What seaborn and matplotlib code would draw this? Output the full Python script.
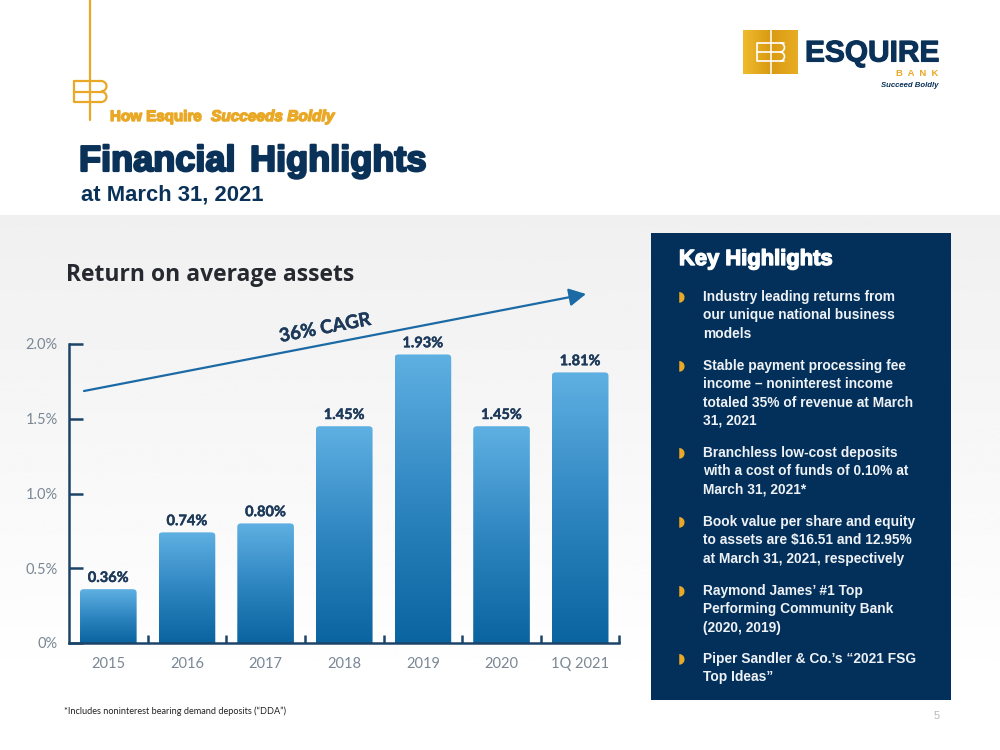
import numpy as np
import pandas as pd
import matplotlib
matplotlib.use("Agg")
import matplotlib.pyplot as plt
import matplotlib.patheffects as pe
from matplotlib.colors import LinearSegmentedColormap
from matplotlib.patches import FancyBboxPatch, Rectangle, Arc
import seaborn as sns

# Return on average assets, percent
years = ["2015", "2016", "2017", "2018", "2019", "2020", "1Q 2021"]
roaa = [0.36, 0.74, 0.80, 1.45, 1.93, 1.45, 1.81]
y_ticks = [0, 0.5, 1.0, 1.5, 2.0]
y_tick_labels = ["0%", "0.5%", "1.0%", "1.5%", "2.0%"]

highlights = [
    ["Industry leading returns from", "our unique national business", "models"],
    ["Stable payment processing fee", "income – noninterest income",
     "totaled 35% of revenue at March", "31, 2021"],
    ["Branchless low-cost deposits", "with a cost of funds of 0.10% at", "March 31, 2021*"],
    ["Book value per share and equity", "to assets are $16.51 and 12.95%", "at March 31, 2021, respectively"],
    ["Raymond James’ #1 Top", "Performing Community Bank", "(2020, 2019)"],
    ["Piper Sandler & Co.’s “2021 FSG", "Top Ideas”"],
]
highlight_tops = [297, 366, 453, 522, 591, 659]

NAVY = "#0a3158"
PANEL = "#03305a"
GOLD = "#e9a825"
AXIS = "#1c4469"
SANS = ["Liberation Sans", "DejaVu Sans"]

sns.set_theme(style="white")
plt.rcParams["font.family"] = ["Lato", "DejaVu Sans"]

fig = plt.figure(figsize=(10, 7.5), dpi=100, facecolor="white")

# Page layer in pixel coordinates, y growing downwards
page = fig.add_axes([0, 0, 1, 1], zorder=0)
page.set_xlim(0, 1000)
page.set_ylim(750, 0)
page.axis("off")

# Soft grey band fading to white behind the chart
fade = np.linspace(0.94, 1.0, 256).reshape(-1, 1)
page.imshow(fade, extent=(0, 1000, 690, 215), cmap="gray", vmin=0, vmax=1, aspect="auto", zorder=0)
page.set_xlim(0, 1000)
page.set_ylim(750, 0)


def heavy(x, y, s, size, color, width=1.0, **kw):
    t = page.text(x, y, s, fontsize=size, color=color, fontweight="bold",
                  family=SANS, va="baseline", ha="left", zorder=5, **kw)
    t.set_path_effects([pe.withStroke(linewidth=width, foreground=color)])
    return t


# Monogram with its long stem
page.plot([90, 90], [0, 120], color=GOLD, lw=1.6, zorder=3)
page.plot([90, 73.5, 73.5, 90], [81, 81, 102, 102], color=GOLD, lw=1.6, zorder=3)
page.plot([73.5, 103], [91.5, 91.5], color=GOLD, lw=1.6, zorder=3)
page.plot([90, 101], [81, 81], color=GOLD, lw=1.6, zorder=3)
page.plot([90, 101], [102, 102], color=GOLD, lw=1.6, zorder=3)
page.add_patch(Arc((101, 86.2), 11, 10.5, theta1=-90, theta2=90, color=GOLD, lw=1.6, zorder=3))
page.add_patch(Arc((101, 96.8), 11, 10.5, theta1=-90, theta2=90, color=GOLD, lw=1.6, zorder=3))

heavy(110, 121, "How Esquire", 10.9, GOLD, 1.0)
heavy(211, 121, "Succeeds Boldly", 11.1, GOLD, 1.0, style="italic")
heavy(79, 171, "Financial", 26, NAVY, 1.6)
heavy(250, 171, "Highlights", 26, NAVY, 1.6)
page.text(81, 200, "at March 31, 2021", fontsize=15.8, color=NAVY, fontweight="bold",
          family=SANS, va="baseline", zorder=5)

# Company logo, upper right
gold_cmap = LinearSegmentedColormap.from_list("gold", ["#f0bb2e", "#d99a12", "#e8ad22"])
page.imshow(np.linspace(0, 1, 64).reshape(1, -1), extent=(743, 798, 74, 30), cmap=gold_cmap,
            aspect="auto", zorder=2)
page.set_xlim(0, 1000)
page.set_ylim(750, 0)
page.plot([770.5, 770.5], [30, 74], color="white", lw=1.1, zorder=3)
page.plot([784, 757, 757, 784], [43, 43, 61, 61], color="white", lw=1.2, zorder=3)
page.plot([757, 781], [52, 52], color="white", lw=1.2, zorder=3)
page.add_patch(Arc((780, 47.5), 9, 9, theta1=-90, theta2=90, color="white", lw=1.2, zorder=3))
page.add_patch(Arc((780, 56.5), 9, 9, theta1=-90, theta2=90, color="white", lw=1.2, zorder=3))
logo = page.text(805, 61.5, "ESQUIRE", fontsize=21.5, color=NAVY, fontweight="bold", family=SANS,
                 va="baseline", zorder=5)
logo.set_path_effects([pe.withStroke(linewidth=0.8, foreground=NAVY)])
page.text(938, 76, "B  A  N  K", fontsize=6.8, color=GOLD, fontweight="bold", family=SANS,
          va="baseline", ha="right", zorder=5)
page.text(938, 85.5, "Succeed Boldly", fontsize=5.6, color=NAVY, fontweight="bold", style="italic",
          family=SANS, va="center", ha="right", zorder=5)

# Key highlights panel
page.add_patch(Rectangle((651, 233), 300, 467, facecolor=PANEL, edgecolor="none", zorder=2))
heavy(679, 265, "Key Highlights", 15.8, "white", 1.0)
for lines, top in zip(highlights, highlight_tops):
    page.text(681, top - 1, "◗", fontsize=10, color=GOLD, family="DejaVu Sans",
              va="center", ha="center", zorder=5)
    for k, line in enumerate(lines):
        page.text(703, top + k * 18.3, line, fontsize=9.9, color="#eef2f6", fontweight="bold",
                  family=SANS, va="center", zorder=5)

# Footnote and page number
page.text(64, 711, "*Includes noninterest bearing demand deposits (“DDA”)", fontsize=6.6,
          color="#222222", va="center", zorder=5)
page.text(937, 716, "5", fontsize=8, color="#b5b8bd", family=SANS, va="center", ha="center", zorder=5)

# Chart heading
title = page.text(66, 275, "Return on average assets", fontsize=16.5, color="#262a30",
                  fontweight="bold", family=["Open Sans", "DejaVu Sans"], va="center", zorder=5)

# Bar chart
ax = fig.add_axes([69 / 1000, 1 - 643 / 750, 550.5 / 1000, 299 / 750], zorder=2)
ax.patch.set_alpha(0)
df = pd.DataFrame({"year": years, "roaa": roaa})
sns.barplot(data=df, x="year", y="roaa", ax=ax, color="#2a7fb8", width=0.72, saturation=1, zorder=2)
ax.set_xlim(-0.5, 6.5)
ax.set_ylim(0, 2.0)
ax.set_xlabel("")
ax.set_ylabel("")

# Vertical blue gradient on each bar, rounded at the top corners
bar_cmap = LinearSegmentedColormap.from_list("bar", ["#0a649f", "#2f86c1", "#5fb0e2"])
for bar, value in zip(list(ax.patches), roaa):
    x0, w = bar.get_x(), bar.get_width()
    bar.set_visible(False)
    clip = FancyBboxPatch((x0, -0.1), w, value + 0.1,
                          boxstyle="round,pad=0,rounding_size=0.05", mutation_aspect=0.45,
                          facecolor="none", edgecolor="none", transform=ax.transData)
    ax.add_patch(clip)
    im = ax.imshow(np.linspace(1, 0, 128).reshape(-1, 1), extent=(x0, x0 + w, 0, value),
                   cmap=bar_cmap, vmin=0, vmax=1, aspect="auto", zorder=2)
    im.set_clip_path(clip)
    label = ax.text(bar.get_x() + w / 2, value + 0.075, f"{value:.2f}%", ha="center", va="center",
                    fontsize=10.5, fontweight="bold", color="#1d3a5a", zorder=4, clip_on=False)
    label.set_path_effects([pe.withStroke(linewidth=0.3, foreground="#1d3a5a")])
ax.set_xlim(-0.5, 6.5)
ax.set_ylim(0, 2.0)

sns.despine(ax=ax, top=True, right=True)
for side in ("left", "bottom"):
    ax.spines[side].set_color(AXIS)
    ax.spines[side].set_linewidth(1.8)
ax.set_yticks(y_ticks, y_tick_labels)
ax.set_xticks(range(len(years)), years)
ax.set_xticks(np.arange(0.5, 7, 1), minor=True)
ax.tick_params(axis="y", direction="in", length=10, width=1.8, color=AXIS, left=True,
               labelsize=10.5, labelcolor="#7a8794", pad=8)
ax.tick_params(axis="x", which="major", length=0, labelsize=10.5, labelcolor="#7a8794", pad=10)
ax.tick_params(axis="x", which="minor", direction="in", length=6, width=1.8, color=AXIS, bottom=True)

# Growth arrow with its caption
page2 = fig.add_axes([0, 0, 1, 1], zorder=3)
page2.set_xlim(0, 1000)
page2.set_ylim(750, 0)
page2.axis("off")
page2.annotate("", xy=(586, 294), xytext=(84, 391),
               arrowprops=dict(arrowstyle="-|>,head_length=0.85,head_width=0.45", color="#1b6aa5",
                               lw=1.6, shrinkA=0, shrinkB=0))
cagr = page2.text(325, 328, "36% CAGR", rotation=10.8, rotation_mode="anchor", fontsize=13.5,
                  fontweight="bold", color="#1d3a5a", ha="center", va="center")
cagr.set_path_effects([pe.withStroke(linewidth=0.3, foreground="#1d3a5a")])

fig.savefig("out.png", dpi=100, facecolor="white")
